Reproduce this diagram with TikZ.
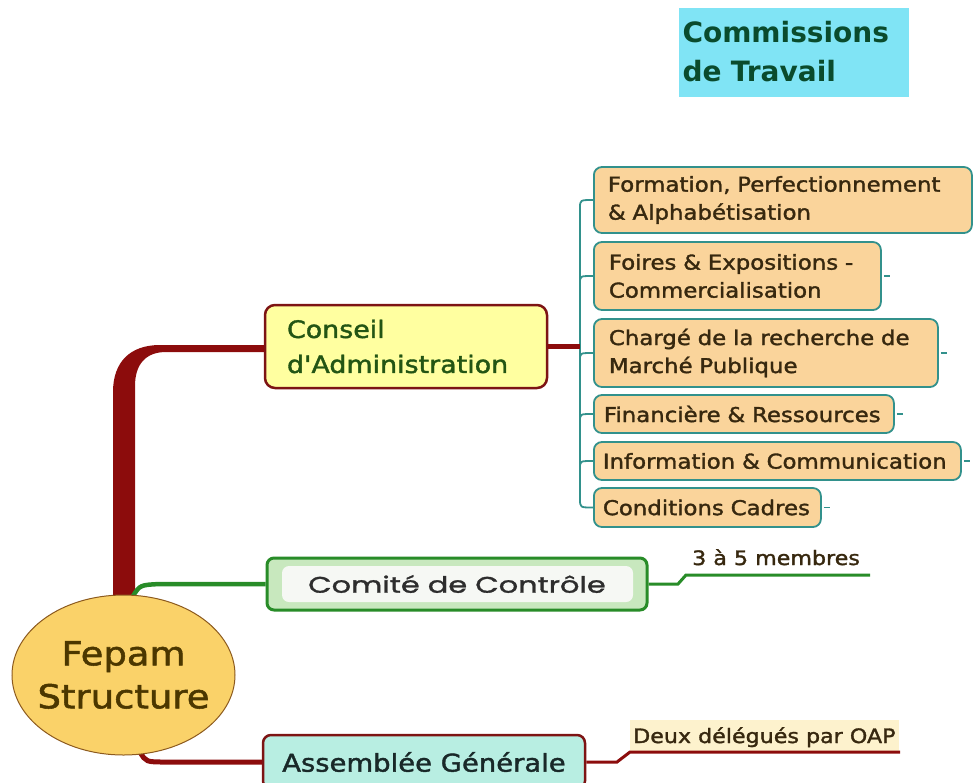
\documentclass[tikz,border=0pt]{standalone}
\usepackage{fontspec}
\setmainfont{DejaVu Sans}
\newfontfamily\tah[FakeStretch=1.12,FakeBold=1.6]{DejaVu Sans}
\newfontfamily\tahplain{DejaVu Sans}
\newfontfamily\geo[FakeStretch=1.35,FakeBold=1.4]{Poppins}
\usetikzlibrary{calc,shapes.geometric}
\definecolor{linkred}{RGB}{140,12,12}
\definecolor{boxred}{RGB}{125,20,20}
\definecolor{conseilfill}{RGB}{255,255,160}
\definecolor{conseiltext}{RGB}{35,85,20}
\definecolor{commfill}{RGB}{250,212,155}
\definecolor{commteal}{RGB}{50,145,140}
\definecolor{commtext}{RGB}{55,40,15}
\definecolor{linkgreen}{RGB}{40,140,40}
\definecolor{comitefill}{RGB}{200,232,190}
\definecolor{comiteinner}{RGB}{246,248,244}
\definecolor{comitetext}{RGB}{45,45,45}
\definecolor{assfill}{RGB}{184,238,226}
\definecolor{asstext}{RGB}{25,40,40}
\definecolor{fepamfill}{RGB}{250,210,105}
\definecolor{fepamline}{RGB}{140,90,30}
\definecolor{fepamtext}{RGB}{75,55,0}
\definecolor{titlefill}{RGB}{128,228,245}
\definecolor{titletext}{RGB}{10,75,45}
\definecolor{deuxbg}{RGB}{253,242,205}
\begin{document}
\begin{tikzpicture}[x=1pt,y=-1pt,
  commbox/.style={draw=commteal, fill=commfill, line width=1.8pt, rounded corners=8pt,
    anchor=west, align=left, text=commtext, inner ysep=0pt,
    font=\tah\fontsize{20.4}{28}\selectfont},
  stub/.style={draw=commteal, line width=1.8pt},
  bracket/.style={draw=commteal, line width=1.8pt},
  redlink/.style={draw=linkred, line width=5pt},
  redthin/.style={draw=linkred, line width=3pt},
  greenlink/.style={draw=linkgreen, line width=4.5pt},
  greenthin/.style={draw=linkgreen, line width=3pt},
  notetext/.style={font=\tah\fontsize{19.8}{24}\selectfont, text=commtext, inner sep=0pt}
]
\useasboundingbox (0,0) rectangle (973,782);
\clip (0,0) rectangle (973,782);

% title
\node[fill=titlefill, minimum width=230pt, minimum height=89pt, text width=222pt, align=left,
  inner xsep=4pt, inner ysep=0pt, text=titletext,
  font=\tahplain\bfseries\fontsize{28}{39}\selectfont] (title) at (793.5,52) {Commissions\\de Travail};

% main nodes
\node[draw=boxred, fill=conseilfill, line width=2.5pt, rounded corners=10pt,
  minimum width=282pt, minimum height=83pt, text width=238pt, inner xsep=22pt, inner ysep=0pt,
  align=left, text=conseiltext, font=\tah\fontsize{24}{35}\selectfont] (conseil) at (406,346.5)
  {Conseil\\d'Administration};

\node[draw=linkgreen, fill=comitefill, line width=3pt, rounded corners=7pt,
  minimum width=380pt, minimum height=52pt, inner sep=0pt,
  path picture={\fill[comiteinner] ($(path picture bounding box.south west)+(15,-8)$) rectangle ($(path picture bounding box.north east)+(-14,8)$);},
  text=comitetext, font=\geo\fontsize{22.5}{26}\selectfont] (comite) at (457,584) {Comité de Contrôle};

\node[draw=boxred, fill=assfill, line width=2.5pt, rounded corners=8pt,
  minimum width=322pt, minimum height=54pt, inner sep=0pt,
  text=asstext, font=\tah\fontsize{24.5}{30}\selectfont] (ass) at (424,762) {Assemblée Générale};

% commission boxes
\node[commbox, minimum width=378pt, minimum height=66pt, inner xsep=14pt, text width=350pt] (c1) at (593,200)
  {Formation, Perfectionnement\\\& Alphabétisation};
\node[commbox, minimum width=287pt, minimum height=68pt, inner xsep=15pt, text width=257pt] (c2) at (593,276)
  {Foires \& Expositions -\\Commercialisation};
\node[commbox, minimum width=344pt, minimum height=68pt, inner xsep=15pt, text width=314pt] (c3) at (593,353)
  {Chargé de la recherche de\\Marché Publique};
\node[commbox, minimum width=300pt, minimum height=38pt, inner xsep=10pt, text width=280pt] (c4) at (593,414)
  {Financière \& Ressources};
\node[commbox, minimum width=367pt, minimum height=38pt, inner xsep=9pt, text width=349pt] (c5) at (593,461)
  {Information \& Communication};
\node[commbox, minimum width=227pt, minimum height=39pt, inner xsep=9pt, text width=209pt] (c6) at (593,507.5)
  {\mbox{Conditions Cadres}};

% stubs on the right of commission boxes
\draw[stub] ($(c2.east)+(2,0)$) -- ++(6,0);
\draw[stub] ($(c3.east)+(2,0)$) -- ++(6,0);
\draw[stub] ($(c4.east)+(2,0)$) -- ++(6,0);
\draw[stub] ($(c5.east)+(2,0)$) -- ++(6,0);
\draw[stub] ($(c6.east)+(2,0)$) -- ++(6,0);

% bracket
\coordinate (brk) at (580,346.5);
\coordinate (btop) at (580,208);
\coordinate (bbot) at (580,499);
\draw[bracket] (btop) -- (bbot);
\draw[bracket] (btop) .. controls (580,200) .. (c1.west);
\draw[bracket] (580,283) .. controls (580,276) .. (c2.west);
\draw[bracket] (580,360) .. controls (580,353) .. (c3.west);
\draw[bracket] (580,421) .. controls (580,414) .. (c4.west);
\draw[bracket] (580,468) .. controls (580,461) .. (c5.west);
\draw[bracket] (bbot) .. controls (580,507.5) .. (c6.west);
\draw[redlink] (conseil.east) -- (brk);

% thick stem to Conseil
\fill[linkred] (113,602) -- (113,392) .. controls (113,362) and (130,345) .. (160,345)
  -- ($(conseil.west)+(0,-1.5)$) -- ($(conseil.west)+(0,5.5)$) -- (166,352)
  .. controls (146,352) and (135,364) .. (135,386) -- (135,602) -- cycle;

% green link to Comite
\draw[greenlink] (133,596) .. controls (140,585) .. (160,584) -- (comite.west);

% red link to Assemblee
\draw[redlink] (140,752) .. controls (146,762) .. (166,762) -- (ass.west);

% Fepam ellipse
\node[ellipse, draw=fepamline, fill=fepamfill, line width=1pt, minimum width=223pt, minimum height=160pt,
  inner sep=-15pt, align=center, text=fepamtext, font=\tah\fontsize{33}{43}\selectfont] (fepam) at (123.5,675)
  {Fepam\\Structure};

% Comite note
\coordinate (cm1) at (678,584);
\coordinate (cm2) at (686,575);
\coordinate (cm3) at (870,575);
\draw[greenthin] (comite.east) -- (cm1) -- (cm2) -- (cm3);
\node[notetext, anchor=base west] (membres) at (692,565) {3 à 5 membres};

% Assemblee note
\node[notetext, anchor=base west, fill=deuxbg, inner xsep=3pt, text height=23pt, text depth=9pt] (deux) at (630,743)
  {Deux délégués par OAP};
\coordinate (as1) at (617,762);
\coordinate (as2) at (630,752);
\coordinate (as3) at (900,752);
\draw[redthin] (ass.east) -- (as1) -- (as2) -- (as3);
\end{tikzpicture}
\end{document}
